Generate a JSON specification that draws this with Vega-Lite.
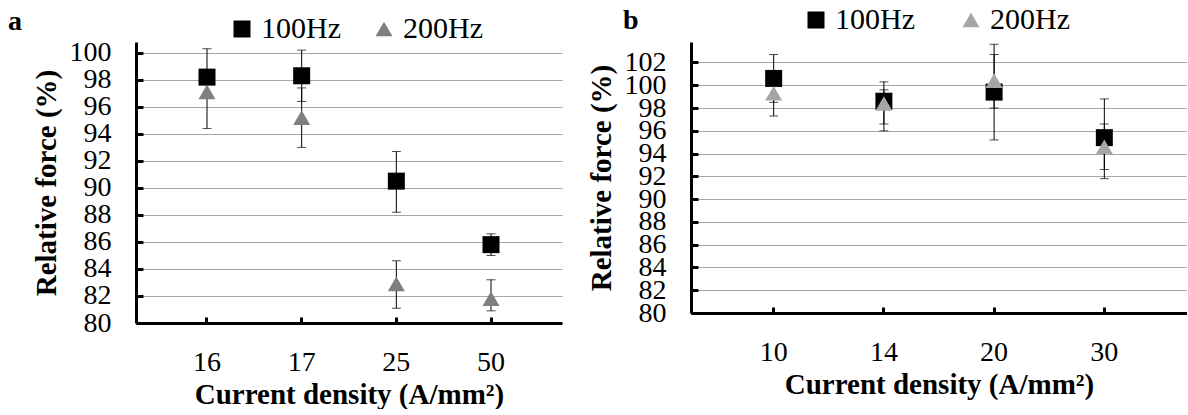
{
  "$schema": "https://vega.github.io/schema/vega-lite/v6.json",
  "background": "white",
  "padding": {"left": 8, "top": 5, "right": 0, "bottom": 0},
  "config": {
    "view": {"stroke": null},
    "font": "Liberation Serif",
    "axis": {
      "labelFont": "Liberation Serif", "titleFont": "Liberation Serif",
      "labelColor": "#000", "titleColor": "#000",
      "labelFontSize": 28, "titleFontSize": 29, "titleFontWeight": "bold",
      "domainColor": "#000", "domainWidth": 3,
      "tickColor": "#000", "tickWidth": 3,
      "gridColor": "#a6a6a6", "gridWidth": 1,
      "labelOverlap": false
    },
    "axisX": {"grid": false, "labelAngle": 0, "tickSize": -6, "labelPadding": 31, "titlePadding": 4},
    "axisY": {"grid": true, "tickSize": -7, "labelPadding": 32, "titlePadding": 8},
    "legend": {
      "labelFont": "Liberation Serif", "labelColor": "#000", "labelFontSize": 30,
      "symbolSize": 289, "padding": 0, "labelOffset": 4, "columnPadding": 28,
      "symbolStrokeWidth": 0, "orient": "none", "direction": "horizontal"
    },
    "title": {"font": "Liberation Serif", "fontSize": 28, "fontWeight": "bold", "color": "#000", "anchor": "start", "frame": "group"}
  },
  "datasets": {
    "d": [
      {"panel": "a", "density": "16", "freq": "100Hz", "value": 98.2, "lo": 97.8, "hi": 98.6},
      {"panel": "a", "density": "16", "freq": "200Hz", "value": 97.1, "lo": 94.4, "hi": 100.3},
      {"panel": "a", "density": "17", "freq": "100Hz", "value": 98.3, "lo": 96.4, "hi": 100.2},
      {"panel": "a", "density": "17", "freq": "200Hz", "value": 95.2, "lo": 93.0, "hi": 97.4},
      {"panel": "a", "density": "25", "freq": "100Hz", "value": 90.5, "lo": 88.2, "hi": 92.7},
      {"panel": "a", "density": "25", "freq": "200Hz", "value": 82.9, "lo": 81.1, "hi": 84.6},
      {"panel": "a", "density": "50", "freq": "100Hz", "value": 85.8, "lo": 85.0, "hi": 86.6},
      {"panel": "a", "density": "50", "freq": "200Hz", "value": 81.8, "lo": 80.9, "hi": 83.2},
      {"panel": "b", "density": "10", "freq": "100Hz", "value": 100.6, "lo": 98.5, "hi": 102.7},
      {"panel": "b", "density": "10", "freq": "200Hz", "value": 99.3, "lo": 97.3, "hi": 101.3},
      {"panel": "b", "density": "14", "freq": "100Hz", "value": 98.6, "lo": 96.6, "hi": 100.3},
      {"panel": "b", "density": "14", "freq": "200Hz", "value": 98.4, "lo": 96.0, "hi": 99.6},
      {"panel": "b", "density": "20", "freq": "100Hz", "value": 99.4, "lo": 95.2, "hi": 103.6},
      {"panel": "b", "density": "20", "freq": "200Hz", "value": 100.4, "lo": 98.0, "hi": 102.7},
      {"panel": "b", "density": "30", "freq": "100Hz", "value": 95.4, "lo": 91.8, "hi": 98.8},
      {"panel": "b", "density": "30", "freq": "200Hz", "value": 94.6, "lo": 92.6, "hi": 96.6}
    ]
  },
  "spacing": 25,
  "resolve": {
    "scale": {"color": "independent", "shape": "independent", "x": "independent", "y": "independent"},
    "legend": {"color": "independent", "shape": "independent"}
  },
  "hconcat": [
    {
      "width": 426, "height": 281,
      "title": {"text": "a", "dx": -128, "dy": 30, "offset": 8},
      "data": {"name": "d"},
      "transform": [{"filter": "datum.panel == 'a'"}],
      "encoding": {
        "x": {"field": "density", "type": "ordinal", "sort": ["16", "17", "25", "50"], "scale": {"padding": 0.5}, "title": "Current density (A/mm²)"}
      },
      "layer": [
        {
          "mark": {"type": "rule", "color": "#000", "strokeWidth": 1},
          "encoding": {
            "y": {"field": "lo", "type": "quantitative", "scale": {"domain": [80, 100.8], "nice": false, "zero": false}, "axis": {"values": [80, 82, 84, 86, 88, 90, 92, 94, 96, 98, 100]}, "title": "Relative force (%)"},
            "y2": {"field": "hi"}
          }
        },
        {
          "mark": {"type": "tick", "color": "#000", "thickness": 1, "size": 9, "orient": "horizontal"},
          "encoding": {
            "y": {"field": "lo", "type": "quantitative", "scale": {"domain": [80, 100.8], "nice": false, "zero": false}, "axis": {"values": [80, 82, 84, 86, 88, 90, 92, 94, 96, 98, 100]}, "title": "Relative force (%)"}
          }
        },
        {
          "mark": {"type": "tick", "color": "#000", "thickness": 1, "size": 9, "orient": "horizontal"},
          "encoding": {
            "y": {"field": "hi", "type": "quantitative", "scale": {"domain": [80, 100.8], "nice": false, "zero": false}, "axis": {"values": [80, 82, 84, 86, 88, 90, 92, 94, 96, 98, 100]}, "title": "Relative force (%)"}
          }
        },
        {
          "mark": {"type": "point", "filled": true, "opacity": 1, "size": 289, "strokeWidth": 0},
          "encoding": {
            "y": {"field": "value", "type": "quantitative", "scale": {"domain": [80, 100.8], "nice": false, "zero": false}, "axis": {"values": [80, 82, 84, 86, 88, 90, 92, 94, 96, 98, 100]}, "title": "Relative force (%)"},
            "color": {"field": "freq", "type": "nominal", "scale": {"domain": ["100Hz", "200Hz"], "range": ["#000000", "#7f7f7f"]}, "legend": {"title": null, "legendX": 91, "legendY": -28, "columnPadding": 28}},
            "shape": {"field": "freq", "type": "nominal", "scale": {"domain": ["100Hz", "200Hz"], "range": ["square", "triangle-up"]}, "legend": {"title": null, "legendX": 91, "legendY": -28, "columnPadding": 28}},
            "order": {"field": "freq", "type": "nominal"}
          }
        }
      ]
    },
    {
      "width": 496, "height": 271,
      "title": {"text": "b", "dx": -68, "dy": 38, "offset": 8},
      "data": {"name": "d"},
      "transform": [{"filter": "datum.panel == 'b'"}],
      "encoding": {
        "x": {"field": "density", "type": "ordinal", "sort": ["10", "14", "20", "30"], "scale": {"padding": 0.5}, "title": "Current density (A/mm²)"}
      },
      "layer": [
        {
          "mark": {"type": "rule", "color": "#000", "strokeWidth": 1},
          "encoding": {
            "y": {"field": "lo", "type": "quantitative", "scale": {"domain": [80, 103.8], "nice": false, "zero": false}, "axis": {"values": [80, 82, 84, 86, 88, 90, 92, 94, 96, 98, 100, 102]}, "title": "Relative force (%)"},
            "y2": {"field": "hi"}
          }
        },
        {
          "mark": {"type": "tick", "color": "#000", "thickness": 1, "size": 9, "orient": "horizontal"},
          "encoding": {
            "y": {"field": "lo", "type": "quantitative", "scale": {"domain": [80, 103.8], "nice": false, "zero": false}, "axis": {"values": [80, 82, 84, 86, 88, 90, 92, 94, 96, 98, 100, 102]}, "title": "Relative force (%)"}
          }
        },
        {
          "mark": {"type": "tick", "color": "#000", "thickness": 1, "size": 9, "orient": "horizontal"},
          "encoding": {
            "y": {"field": "hi", "type": "quantitative", "scale": {"domain": [80, 103.8], "nice": false, "zero": false}, "axis": {"values": [80, 82, 84, 86, 88, 90, 92, 94, 96, 98, 100, 102]}, "title": "Relative force (%)"}
          }
        },
        {
          "mark": {"type": "point", "filled": true, "opacity": 1, "size": 289, "strokeWidth": 0},
          "encoding": {
            "y": {"field": "value", "type": "quantitative", "scale": {"domain": [80, 103.8], "nice": false, "zero": false}, "axis": {"values": [80, 82, 84, 86, 88, 90, 92, 94, 96, 98, 100, 102]}, "title": "Relative force (%)"},
            "color": {"field": "freq", "type": "nominal", "scale": {"domain": ["100Hz", "200Hz"], "range": ["#000000", "#a6a6a6"]}, "legend": {"title": null, "legendX": 110, "legendY": -37, "columnPadding": 41}},
            "shape": {"field": "freq", "type": "nominal", "scale": {"domain": ["100Hz", "200Hz"], "range": ["square", "triangle-up"]}, "legend": {"title": null, "legendX": 110, "legendY": -37, "columnPadding": 41}},
            "order": {"field": "freq", "type": "nominal"}
          }
        }
      ]
    }
  ]
}
